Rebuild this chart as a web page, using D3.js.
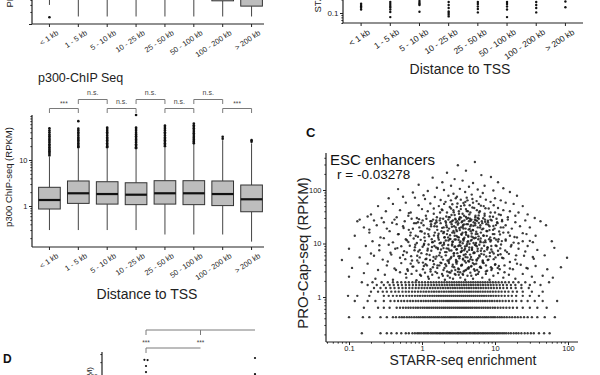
<!DOCTYPE html>
<html>
<head>
<meta charset="utf-8">
<script src="https://cdn.jsdelivr.net/npm/d3@7"></script>
<style>
  body { margin: 0; background: #fff; }
  svg { display: block; }
</style>
</head>
<body>
<div id="wrapper"></div>
<script>

// 1. Data

const distanceBins = ["< 1 kb", "1 - 5 kb", "5 - 10 kb", "10 - 25 kb", "25 - 50 kb", "50 - 100 kb", "100 - 200 kb", "> 200 kb"]

// panel A (only the bottom of it is in the crop)
const proLow = [0.30, 0.154, 0.154, 0.154, 0.154, 0.154, 0.154, 0.154]
const proQ1 = [0.9, 1.0, 1.0, 1.0, 1.0, 1.0, 0.38, 0.28]
const proMed = [1.6, 2.0, 2.0, 1.9, 2.0, 2.0, 0.9, 0.6]
const proQ3 = [3.5, 4.0, 4.0, 3.8, 4.0, 4.0, 2.0, 1.4]
const proHigh = [30, 35, 35, 35, 35, 35, 20, 15]
const proOutliers = [[0.147], [], [], [], [], [], [], []]

// panel B (only the bottom of it is in the crop)
const starrPoints = [
  [0.16, 0.15, 0.14, 0.13, 0.12],
  [0.176, 0.158, 0.143, 0.132, 0.12, 0.105, 0.081],
  [0.185, 0.17, 0.158, 0.15, 0.107],
  [0.176, 0.151, 0.129, 0.108, 0.1, 0.092, 0.084],
  [0.176, 0.158, 0.139, 0.123, 0.103],
  [0.176, 0.158, 0.139, 0.12, 0.081],
  [0.176, 0.151, 0.129, 0.103],
  [0.18, 0.134]
]

// p300 ChIP-seq boxes
const p300Low = [0.30, 0.30, 0.30, 0.30, 0.24, 0.24, 0.24, 0.168]
const p300Q1 = [0.86, 1.14, 1.10, 1.07, 1.10, 1.07, 1.02, 0.75]
const p300Med = [1.35, 1.89, 1.82, 1.76, 1.89, 1.89, 1.82, 1.40]
const p300Q3 = [2.55, 3.5, 3.37, 3.2, 3.55, 3.55, 3.5, 2.86]
const p300High = [11.6, 18, 18, 17, 18.8, 22, 27, 23]
const p300Outliers = [
  [12.5, 13.5, 14.5, 15.5, 16.5, 17.5, 19, 20.5, 22, 24, 26, 28, 30, 33, 36, 40, 44, 49],
  [19, 20, 21.5, 23, 25, 27, 29, 31, 34, 37, 40, 44, 48, 70],
  [19, 20, 21.5, 23, 25, 27, 29, 31, 34, 37, 40, 43, 47, 51],
  [18, 19, 20.5, 22, 24, 26, 28, 30, 33, 36, 39, 43, 47, 51, 95],
  [20, 21.5, 23, 25, 27, 29, 31, 34, 37, 40, 44, 48, 52, 56],
  [23, 24.5, 26, 28, 30, 32, 35, 38, 41, 45, 49, 53, 57, 62],
  [29, 32],
  [25, 27]
]
const p300Tests = [
  { from: 0, to: 1, label: "***", level: 0 },
  { from: 1, to: 2, label: "n.s.", level: 1 },
  { from: 2, to: 3, label: "n.s.", level: 0 },
  { from: 3, to: 4, label: "n.s.", level: 1 },
  { from: 4, to: 5, label: "n.s.", level: 0 },
  { from: 5, to: 6, label: "n.s.", level: 1 },
  { from: 6, to: 7, label: "***", level: 0 },
]

// panel C: STARR-seq enrichment vs PRO-Cap-seq (RPKM)
const cloudPoints = [
  [5.3,334],[3.1,290],[2.2,210],[4.0,230],[6.5,190],[1.4,170],[8.8,175],[2.8,160],[3.6,150],[1.9,140],[5.0,135],[11,140],[0.9,125],[2.5,120],[4.4,115],[7.2,120],[1.6,110],[3.3,105],[13,108],[0.47,104],[2.0,100],[5.8,102],[9.5,98],[1.2,96],[3.9,92],[0.75,90],[16,92],[6.8,88],[2.7,85],[4.8,82],[1.05,80],[20,78],
  [0.35,70],[0.55,75],[0.8,72],[1.1,68],[1.5,74],[1.8,65],[2.3,78],[2.9,70],[3.4,66],[4.1,72],[4.9,68],[5.6,62],[6.3,75],[7.5,66],[8.7,60],[10,70],[12,64],[14,58],[18,55],[24,50],[0.25,50],[0.4,55],[0.6,58],[0.9,52],[1.3,56],[1.7,50],[2.1,60],[2.6,54],[3.0,48],[3.7,57],[4.5,52],[5.2,46],[6.0,55],[7.0,50],[8.2,45],[9.6,52],[11,46],[13,42],[16,40],[21,38],[28,35],[0.2,35],[0.32,40],[0.5,42],[0.7,38],[1.0,44],[1.2,40],[1.45,36],[1.9,42],[2.2,38],[2.5,45],[2.8,34],[3.2,40],[3.6,36],[4.0,44],[4.6,38],[5.4,33],[6.2,40],[7.2,36],[8.5,32],[10,38],[12,34],[15,31],[19,33],[35,30],[0.18,32],[0.28,30],[0.45,31],[0.65,33],[0.85,30],[1.6,31],[2.4,31],[3.3,31],[4.3,30],[5.8,30],[0.14,28],
  [0.13,26],[0.22,27],[0.3,25],[0.42,28],[0.58,26],[0.72,29],[0.88,25],[1.02,27],[1.15,29],[1.3,26],[1.42,28],[1.58,25],[1.75,27],[1.95,29],[2.1,26],[2.3,28],[2.45,25],[2.65,27],[2.85,29],[3.05,26],[3.25,28],[3.5,25],[3.8,27],[4.1,29],[4.4,26],[4.75,28],[5.1,25],[5.5,27],[6.0,29],[6.6,26],[7.3,28],[8.0,25],[9.0,27],[10.5,29],[12.5,26],[15,28],[19,25],[26,27],[42,26],
  [0.16,20],[0.24,22],[0.33,19],[0.45,23],[0.55,21],[0.66,18],[0.78,24],[0.92,20],[1.05,22],[1.18,19],[1.33,23],[1.48,21],[1.62,18],[1.8,24],[1.98,20],[2.15,22],[2.35,19],[2.55,23],[2.75,21],[2.95,18],[3.15,24],[3.4,20],[3.65,22],[3.95,19],[4.25,23],[4.6,21],[4.95,18],[5.35,24],[5.8,20],[6.3,22],[6.9,19],[7.6,23],[8.4,21],[9.4,18],[10.8,24],[12,20],[14,22],[17,19],[22,21],[30,20],[50,22],
  [0.12,14],[0.19,16],[0.27,13],[0.36,17],[0.48,15],[0.6,12],[0.7,16],[0.82,14],[0.95,17],[1.08,13],[1.22,15],[1.36,12],[1.5,16],[1.66,14],[1.85,17],[2.02,13],[2.2,15],[2.4,12],[2.6,16],[2.8,14],[3.0,17],[3.2,13],[3.45,15],[3.7,12],[4.0,16],[4.3,14],[4.65,17],[5.0,13],[5.45,15],[5.9,12],[6.4,16],[7.0,14],[7.8,17],[8.6,13],[9.8,15],[11.2,12],[13,16],[16,14],[20,13],[27,15],[36,14],
  [0.21,11],[0.4,10.5],[0.62,11.5],[0.85,10.2],[1.1,11.2],[1.4,10.6],[1.7,11.8],[2.0,10.3],[2.3,11.4],[2.6,10.8],[2.9,11.9],[3.3,10.4],[3.7,11.3],[4.2,10.7],[4.8,11.7],[5.5,10.2],[6.3,11.1],[7.4,10.6],[8.8,11.5],[11,10.9],[14,11.3],[18,10.4],[24,11],[33,10.6],[60,11],
  [0.1,8],[0.17,9],[0.26,7.5],[0.35,9.5],[0.46,8.2],[0.57,7.2],[0.68,9.1],[0.8,8.5],[0.93,7.6],[1.06,9.4],[1.2,8.0],[1.34,7.3],[1.48,9.0],[1.64,8.3],[1.82,7.7],[2.0,9.6],[2.18,8.1],[2.38,7.4],[2.58,9.2],[2.78,8.6],[3.0,7.8],[3.25,9.3],[3.5,8.2],[3.78,7.5],[4.1,9.0],[4.45,8.4],[4.85,7.6],[5.3,9.5],[5.8,8.0],[6.4,7.3],[7.1,9.1],[7.9,8.5],[8.9,7.7],[10.2,9.2],[11.8,8.1],[13.8,7.4],[16.5,8.8],[21,8.0],[28,9.0],[38,7.6],[65,8.3],
  [0.14,5.5],[0.2,6.5],[0.29,5.0],[0.38,6.2],[0.5,5.4],[0.62,6.8],[0.73,4.8],[0.86,5.9],[0.98,6.6],[1.12,5.1],[1.27,6.1],[1.42,4.7],[1.58,5.7],[1.76,6.7],[1.94,5.0],[2.12,6.0],[2.32,4.6],[2.52,5.6],[2.72,6.5],[2.92,4.9],[3.15,5.8],[3.4,6.9],[3.65,5.2],[3.95,6.3],[4.3,4.7],[4.7,5.6],[5.1,6.6],[5.6,5.0],[6.1,6.0],[6.8,4.8],[7.6,5.7],[8.5,6.7],[9.6,5.1],[11,6.1],[13,5.3],[15.5,6.4],[19,5.0],[25,5.9],[34,5.2],[48,6.0],[97,5.4],[0.08,4.9],
  [0.11,3.5],[0.18,4.2],[0.25,3.2],[0.33,3.9],[0.42,3.4],[0.52,4.3],[0.64,3.1],[0.76,3.7],[0.9,4.4],[1.03,3.3],[1.17,3.9],[1.31,3.0],[1.46,4.1],[1.62,3.5],[1.79,4.4],[1.97,3.2],[2.15,3.8],[2.34,4.3],[2.55,3.1],[2.76,3.6],[2.98,4.2],[3.2,3.3],[3.45,3.9],[3.72,3.0],[4.0,4.4],[4.35,3.4],[4.75,3.8],[5.2,4.1],[5.7,3.2],[6.3,3.7],[7.0,4.3],[7.8,3.1],[8.8,3.6],[10,4.0],[11.6,3.3],[13.5,3.9],[16,3.4],[20,4.2],[27,3.5],[36,3.8],[52,3.3],[80,3.6],
  [0.1,2.4],[0.16,2.8],[0.23,2.2],[0.31,2.6],[0.4,2.1],[0.5,2.9],[0.61,2.3],[0.72,2.7],[0.84,2.05],[0.97,2.5],[1.1,2.85],[1.24,2.2],[1.38,2.6],[1.53,2.95],[1.7,2.3],[1.88,2.7],[2.06,2.1],[2.25,2.5],[2.45,2.85],[2.66,2.2],[2.88,2.6],[3.1,2.95],[3.35,2.3],[3.6,2.7],[3.9,2.1],[4.2,2.5],[4.6,2.85],[5.0,2.2],[5.5,2.6],[6.0,2.95],[6.7,2.3],[7.5,2.7],[8.4,2.1],[9.5,2.5],[11,2.8],[13,2.3],[15.5,2.6],[19,2.2],[24,2.7],[32,2.4],[45,2.5],[62,2.3]
]

// the dark centre of the cloud
const cloudCore = [
  [0.63,3.3],[0.71,5.8],[0.77,12.4],[0.83,24],[0.89,7.1],[0.94,2.6],[0.99,16.8],[1.03,4.4],[1.07,9.9],[1.13,33],[1.16,6.3],[1.21,2.4],[1.25,13.7],[1.29,4.9],[1.33,21],[1.37,8.6],[1.41,3.6],[1.45,45],[1.49,11.1],[1.53,5.2],[1.57,27],[1.61,2.8],[1.65,7.9],[1.69,15.2],[1.73,3.9],[1.77,38],[1.81,10.3],[1.85,5.6],[1.89,19.6],[1.93,2.5],[1.97,8.2],[2.01,55],[2.05,13.1],[2.09,4.1],[2.13,24.5],[2.17,6.9],[2.21,3.0],[2.25,17.4],[2.29,9.4],[2.33,31],[2.37,5.0],[2.41,2.3],[2.45,12.2],[2.49,64],[2.53,7.4],[2.57,20.5],[2.61,3.7],[2.65,10.8],[2.69,42],[2.73,5.9],[2.77,15.9],[2.81,2.7],[2.85,8.8],[2.89,28],[2.93,4.5],[2.97,13.9],[3.01,75],[3.05,6.6],[3.09,22.5],[3.13,3.4],[3.17,11.6],[3.21,36],[3.25,5.3],[3.29,17.9],[3.33,2.9],[3.37,9.1],[3.41,50],[3.45,7.0],[3.49,14.6],[3.53,4.0],[3.57,26],[3.61,10.1],[3.65,2.6],[3.69,19.1],[3.73,6.1],[3.77,33],[3.81,12.8],[3.85,4.7],[3.89,8.0],[3.93,60],[3.97,16.2],[4.01,3.2],[4.07,23],[4.13,9.7],[4.19,5.5],[4.25,40],[4.31,13.4],[4.37,3.6],[4.43,7.6],[4.49,18.7],[4.55,29],[4.61,5.1],[4.67,11.3],[4.73,2.5],[4.79,15.4],[4.85,8.4],[4.91,47],[4.97,4.3],[5.05,21.5],[5.13,6.8],[5.21,12.5],[5.29,3.1],[5.37,31],[5.45,9.3],[5.53,16.6],[5.61,4.8],[5.69,26.5],[5.77,7.2],[5.85,2.7],[5.95,13.6],[6.05,38],[6.15,5.7],[6.25,19.9],[6.35,10.6],[6.45,3.5],[6.57,8.1],[6.69,24],[6.81,4.4],[6.93,14.1],[7.05,6.2],[7.2,33],[7.35,11.4],[7.5,3.0],[7.65,17.1],[7.8,7.7],[7.95,4.9],[8.1,22.4],[8.3,12.0],[8.5,5.8],[8.7,28],[8.9,9.0],[9.1,3.4],[9.35,15.0],[9.6,6.5],[9.85,19.0],[10.1,4.1],[10.4,11.8],[10.7,25],[11,7.3],[11.3,3.8],[11.7,14.8],[12.1,9.6],[12.5,5.4],[13,20],[13.5,2.9],[14,11.9],[14.6,6.9],[15.2,16.1],[16,4.5],[16.8,9.4],[17.6,3.3],[18.5,13.2],[19.5,6.0],[21,10.1],[22.5,4.0],[24,15.6],[26,7.1],[28,3.4],[30,11.2],[33,5.6],
  [0.52,8.9],[0.56,19.5],[0.59,5.1],[0.66,37],[0.69,14.2],[0.74,3.7],[0.81,9.5],[0.86,4.8],[0.91,28.5],[0.96,11.7],[0.3,12.6],[0.34,4.6],[0.39,24.5],[0.43,8.0],[0.47,14.9],[0.26,9.3],[0.22,5.9],[0.19,18.2],[0.44,3.2],[0.37,6.7],
  [1.12,4.1],[1.19,7.4],[1.26,18.3],[1.31,3.3],[1.38,10.6],[1.44,5.6],[1.51,23.6],[1.56,8.4],[1.63,3.9],[1.67,12.8],[1.72,6.0],[1.78,29.5],[1.84,4.3],[1.9,9.2],[1.96,15.6],[2.03,3.5],[2.07,6.9],[2.12,11.4],[2.19,20.2],[2.24,4.8],[2.3,8.0],[2.36,2.9],[2.42,14.3],[2.47,5.3],[2.54,34],[2.59,9.7],[2.64,4.0],[2.7,17.2],[2.75,6.6],[2.8,11.9],[2.86,3.2],[2.91,24.8],[2.96,7.7],[3.03,4.6],[3.08,13.2],[3.14,9.0],[3.19,2.6],[3.24,19.4],[3.3,5.8],[3.36,10.9],[3.42,30.5],[3.47,3.9],[3.52,7.3],[3.59,15.9],[3.64,5.0],[3.7,12.1],[3.76,22.8],[3.83,3.1],[3.88,8.8],[3.95,5.6],[4.02,14.6],[4.09,40.5],[4.16,7.0],[4.22,3.4],[4.28,11.0],[4.35,18.2],[4.41,4.6],[4.47,9.9],[4.55,6.2],[4.63,26.7],[4.7,3.7],[4.77,13.5],[4.84,7.9],[4.92,4.9],[5.0,17.7],[5.08,10.2],[5.17,3.3],[5.26,6.7],[5.35,21.9],[5.44,12.8],[5.53,4.2],[5.63,8.9],[5.74,15.1],[5.86,5.3],[5.98,33.5],[6.1,9.5],[6.22,3.6],[6.36,12.4],[6.5,6.4],[6.65,18.4],[6.8,4.6],[6.97,10.5],[7.15,7.2],[7.33,25.5],[7.52,3.9],[7.72,13.9],[7.93,8.3],[8.15,5.0],[8.4,17.8],[8.65,10.9],[8.92,3.2],[9.2,7.0],[9.5,21.2],[9.8,12.6],[10.15,5.5],[10.5,9.0],[10.9,3.5],[11.4,16.8],[11.9,6.3],[12.4,11.1],
  [0.55,6.1],[0.6,2.7],[0.65,10.7],[0.7,4.2],[0.75,18.9],[0.79,7.5],[0.84,3.1],[0.88,13.4],[0.93,5.5],[0.98,24.1],[1.02,8.7],[1.06,3.8],[1.09,15.4],[1.15,5.2],[1.23,9.6],[1.35,26.1],[1.46,14.1],[1.6,20.8],[1.75,10.1],[1.87,43.5],[2.0,16.4],[2.15,32],[2.28,13.0],[2.4,48],[2.56,25.9],[2.72,38.5],[2.9,19.9],[3.06,56],[3.22,28.8],[3.4,44],[3.6,20.6],[3.8,52],[4.0,31.4],[4.2,64],[4.45,35],[4.7,22.3],[5.0,58],[5.3,27.8],[5.65,42],[6.0,24.3],[6.4,51],[6.9,29.7],[7.4,45.5],[8.0,26.8],[8.7,38],[9.4,31.6],[10.3,22.1],[11.3,35],[12.5,27.5]
]

// low PRO-Cap values fall on discrete levels
const bandLevels = [0.21, 0.42, 0.63, 0.84, 1.05, 1.26, 1.47, 1.68, 1.89]
const bandEnrichment = [
  [0.15, 0.27, 0.33, 0.38, 0.45, 0.52, 0.6, 0.66, 0.74, 0.8, 0.86, 0.91, 0.97, 1.04, 1.1, 1.17, 1.23, 1.31, 1.38, 1.46, 1.55, 1.63, 1.72, 1.8, 1.9, 2.0, 2.12, 2.23, 2.35, 2.47, 2.6, 2.74, 2.9, 3.05, 3.2, 3.38, 3.55, 3.75, 3.95, 4.15, 4.4, 4.62, 4.88, 5.15, 5.4, 5.7, 6.0, 6.35, 6.7, 7.05, 7.45, 7.85, 8.3, 8.8, 9.3, 9.8, 10.4, 11, 11.7, 12.5, 13.3, 14.2, 15.3, 16.5, 18, 19.5, 21, 23, 25.5, 28, 31, 34, 40, 47, 56],
  [0.1, 0.155, 0.19, 0.27, 0.33, 0.4, 0.44, 0.49, 0.53, 0.57, 0.62, 0.67, 0.72, 0.78, 0.84, 0.9, 0.96, 1.03, 1.1, 1.18, 1.26, 1.34, 1.43, 1.52, 1.62, 1.72, 1.84, 1.96, 2.08, 2.22, 2.36, 2.5, 2.66, 2.83, 3.0, 3.2, 3.4, 3.62, 3.85, 4.1, 4.36, 4.63, 4.92, 5.25, 5.6, 5.95, 6.35, 6.8, 7.25, 7.7, 8.2, 8.8, 9.4, 10, 10.8, 11.6, 12.4, 13.4, 14.5, 15.8, 17.2, 18.8, 20.5, 22.5, 25, 28, 32, 38, 48, 66],
  [0.16, 0.25, 0.3, 0.36, 0.45, 0.5, 0.55, 0.6, 0.65, 0.7, 0.76, 0.82, 0.88, 0.95, 1.02, 1.09, 1.17, 1.25, 1.34, 1.43, 1.53, 1.63, 1.74, 1.86, 1.98, 2.1, 2.24, 2.38, 2.53, 2.69, 2.86, 3.04, 3.23, 3.43, 3.65, 3.88, 4.12, 4.38, 4.66, 4.95, 5.3, 5.65, 6.05, 6.5, 6.95, 7.45, 8.0, 8.6, 9.3, 10, 10.9, 11.9, 13, 14.3, 15.8, 17.6, 20, 24, 30, 38, 51],
  [0.12, 0.18, 0.23, 0.3, 0.37, 0.42, 0.47, 0.52, 0.57, 0.63, 0.69, 0.75, 0.82, 0.89, 0.97, 1.05, 1.13, 1.22, 1.31, 1.41, 1.51, 1.62, 1.74, 1.86, 1.99, 2.13, 2.27, 2.42, 2.58, 2.75, 2.93, 3.12, 3.33, 3.55, 3.78, 4.03, 4.3, 4.58, 4.88, 5.2, 5.55, 5.93, 6.35, 6.8, 7.3, 7.85, 8.45, 9.1, 9.85, 10.7, 11.6, 12.7, 14, 15.5, 17.3, 19.5, 23, 28, 35, 45, 71],
  [0.097, 0.13, 0.19, 0.3, 0.35, 0.4, 0.45, 0.5, 0.55, 0.61, 0.67, 0.73, 0.8, 0.87, 0.94, 1.02, 1.1, 1.19, 1.28, 1.38, 1.48, 1.59, 1.7, 1.82, 1.95, 2.08, 2.22, 2.37, 2.53, 2.7, 2.88, 3.07, 3.27, 3.48, 3.7, 3.94, 4.2, 4.47, 4.76, 5.07, 5.4, 5.77, 6.17, 6.6, 7.07, 7.6, 8.18, 8.8, 9.5, 10.3, 11.2, 12.3, 13.6, 15.2, 17, 19.5, 24, 30, 40],
  [0.2, 0.25, 0.29, 0.33, 0.38, 0.43, 0.48, 0.54, 0.6, 0.66, 0.73, 0.8, 0.88, 0.96, 1.05, 1.14, 1.24, 1.35, 1.46, 1.58, 1.71, 1.85, 2.0, 2.16, 2.33, 2.5, 2.68, 2.88, 3.1, 3.33, 3.57, 3.83, 4.1, 4.4, 4.72, 5.07, 5.45, 5.86, 6.3, 6.8, 7.35, 7.95, 8.6, 9.35, 10.2, 11.2, 12.3, 13.7, 15.3, 17.5, 20, 24, 32, 45],
  [0.22, 0.27, 0.32, 0.37, 0.42, 0.48, 0.54, 0.6, 0.67, 0.74, 0.82, 0.9, 0.99, 1.08, 1.18, 1.29, 1.4, 1.52, 1.65, 1.79, 1.94, 2.1, 2.27, 2.45, 2.64, 2.84, 3.06, 3.3, 3.55, 3.82, 4.1, 4.4, 4.73, 5.1, 5.5, 5.93, 6.4, 6.92, 7.5, 8.13, 8.85, 9.65, 10.6, 11.7, 13, 14.6, 16.6, 19.2, 23, 29],
  [0.18, 0.24, 0.3, 0.36, 0.41, 0.47, 0.53, 0.6, 0.67, 0.75, 0.83, 0.92, 1.01, 1.11, 1.22, 1.34, 1.46, 1.59, 1.73, 1.88, 2.04, 2.21, 2.39, 2.58, 2.78, 3.0, 3.23, 3.48, 3.75, 4.04, 4.35, 4.68, 5.04, 5.43, 5.86, 6.33, 6.85, 7.42, 8.05, 8.75, 9.55, 10.5, 11.6, 12.9, 14.5, 16.5, 19, 23, 30, 42],
  [0.15, 0.21, 0.28, 0.34, 0.4, 0.46, 0.52, 0.59, 0.66, 0.74, 0.82, 0.91, 1.0, 1.1, 1.21, 1.32, 1.44, 1.57, 1.71, 1.86, 2.02, 2.19, 2.37, 2.56, 2.76, 2.98, 3.21, 3.46, 3.73, 4.02, 4.33, 4.66, 5.02, 5.41, 5.83, 6.29, 6.79, 7.34, 7.94, 8.6, 9.35, 10.2, 11.2, 12.4, 13.8, 15.5, 17.8, 21, 26, 35, 55]
]
const cTitle = "ESC enhancers"
const cCorrelation = "r = -0.03278"

// panel D (only the top of it is in the crop)
const dGroups = ["g1", "g2", "g3"]
const dPoints = [[225, 222, 165, 122], [], [246, 110]]
const dTests = [
  { from: 0, to: 2, mid: 1, label: ["***", "***"], level: 1 },
  { from: 0, to: 1, label: [], level: 0 },
]

// 2. Chart dimensions

const font = "'Liberation Sans', Arial, Helvetica, sans-serif"
const ink = "#222"

const wrapper = d3.select("#wrapper")
  .append("svg")
  .attr("width", 600)
  .attr("height", 375)
  .style("font-family", font)

// log ticks (1..9 x 10^n) falling inside a pixel span
function logTickValues(scale, p0, p1) {
  const lo = Math.min(p0, p1), hi = Math.max(p0, p1)
  const vals = []
  for (let e = -3; e <= 4; e++) {
    for (let k = 1; k <= 9; k++) {
      const v = +(k * Math.pow(10, e)).toPrecision(6)
      const p = scale(v)
      if (p >= lo - 0.01 && p <= hi + 0.01) vals.push(v)
    }
  }
  return vals
}
const isDecade = v => Math.abs(Math.log10(v) - Math.round(Math.log10(v))) < 1e-6

function logAxisLeft(g, scale, x, y0, y1, labelled, fontSize) {
  const vals = logTickValues(scale, y0, y1)
  const axis = d3.axisLeft(scale)
    .tickValues(vals)
    .tickSize(3)
    .tickPadding(1.5)
    .tickSizeOuter(0)
    .tickFormat(d => labelled.includes(d) ? String(d) : "")
  g.attr("transform", `translate(${x},0)`).call(axis)
  g.select(".domain").remove()
  g.selectAll(".tick line")
    .attr("stroke", ink)
    .attr("x2", d => isDecade(d) ? -3 : -1.6)
  g.selectAll(".tick text").attr("fill", ink)
  g.attr("font-size", fontSize).attr("font-family", font)
  g.append("line")
    .attr("y1", y0).attr("y2", y1)
    .attr("stroke", ink).attr("stroke-width", 1.2)
}

function logAxisBottom(g, scale, y, x0, x1, labelled, fontSize) {
  const vals = logTickValues(scale, x0, x1)
  const axis = d3.axisBottom(scale)
    .tickValues(vals)
    .tickSize(3)
    .tickPadding(0.5)
    .tickSizeOuter(0)
    .tickFormat(d => labelled.includes(d) ? String(d) : "")
  g.attr("transform", `translate(0,${y})`).call(axis)
  g.select(".domain").remove()
  g.selectAll(".tick line")
    .attr("stroke", ink)
    .attr("y2", d => isDecade(d) ? 3 : 1.6)
  g.selectAll(".tick text").attr("fill", ink)
  g.attr("font-size", fontSize).attr("font-family", font)
  g.append("line")
    .attr("x1", x0).attr("x2", x1)
    .attr("stroke", ink).attr("stroke-width", 1.2)
}

function categoryAxis(g, xScale, y, x0, x1, fontSize) {
  const axis = d3.axisBottom(xScale).tickSize(3).tickSizeOuter(0)
  g.attr("transform", `translate(0,${y})`).call(axis)
  g.select(".domain").remove()
  g.selectAll(".tick line").attr("stroke", ink)
  g.selectAll(".tick text")
    .attr("x", 0).attr("y", 0).attr("dy", "0.35em")
    .attr("text-anchor", "end")
    .attr("fill", ink)
    .attr("transform", "translate(8,8) rotate(-34)")
  g.attr("font-size", fontSize).attr("font-family", font)
  g.append("line")
    .attr("x1", x0).attr("x2", x1)
    .attr("stroke", ink).attr("stroke-width", 1.2)
}

function drawBoxes(g, xScale, yScale, low, q1, med, q3, high, outliers) {
  const bw = xScale.bandwidth()
  const boxes = g.selectAll("g.box")
    .data(distanceBins)
    .join("g")
    .attr("class", "box")
    .attr("transform", d => `translate(${xScale(d)},0)`)

  boxes.append("line")
    .attr("x1", bw / 2).attr("x2", bw / 2)
    .attr("y1", (d, i) => yScale(low[i]))
    .attr("y2", (d, i) => yScale(q1[i]))
    .attr("stroke", "#444")
  boxes.append("line")
    .attr("x1", bw / 2).attr("x2", bw / 2)
    .attr("y1", (d, i) => yScale(q3[i]))
    .attr("y2", (d, i) => yScale(high[i]))
    .attr("stroke", "#444")
  boxes.append("rect")
    .attr("x", 0).attr("width", bw)
    .attr("y", (d, i) => yScale(q3[i]))
    .attr("height", (d, i) => yScale(q1[i]) - yScale(q3[i]))
    .attr("fill", "#bdbdbd")
    .attr("stroke", "#333")
    .attr("stroke-width", 1)
  boxes.append("line")
    .attr("x1", 0).attr("x2", bw)
    .attr("y1", (d, i) => yScale(med[i]))
    .attr("y2", (d, i) => yScale(med[i]))
    .attr("stroke", "#111")
    .attr("stroke-width", 2.2)
  boxes.each(function (d, i) {
    d3.select(this).selectAll("circle")
      .data(outliers[i])
      .join("circle")
      .attr("cx", bw / 2)
      .attr("cy", v => yScale(v))
      .attr("r", 1.3)
      .attr("fill", "#111")
  })
}

// 3. Panel A (cropped, top left)

const xLeft = d3.scaleBand()
  .domain(distanceBins)
  .range([35, 266])
  .paddingInner(0.25)
  .paddingOuter(0.125)

const yA = d3.scaleLog().domain([0.1, 1]).range([24, -16])
const panelA = wrapper.append("g")
drawBoxes(panelA, xLeft, yA, proLow, proQ1, proMed, proQ3, proHigh, proOutliers)
logAxisLeft(panelA.append("g"), yA, 32, -2, 24, [], 7.5)
categoryAxis(panelA.append("g"), xLeft, 24, 32, 264, 7.5)
panelA.append("text")
  .attr("transform", "translate(13,7.5) rotate(-90)")
  .attr("font-size", 9.5)
  .attr("fill", ink)
  .text("PRO-Cap-seq (RPKM)")

// 4. Panel B (cropped, top right)

const xRight = d3.scaleBand()
  .domain(distanceBins)
  .range([346.5, 580])
  .paddingInner(0.25)
  .paddingOuter(0.125)
const yB = d3.scaleLog().domain([0.1, 1]).range([13, -32])
const panelB = wrapper.append("g")
panelB.selectAll("g.col")
  .data(distanceBins)
  .join("g")
  .attr("class", "col")
  .each(function (d, i) {
    d3.select(this).selectAll("circle")
      .data(starrPoints[i])
      .join("circle")
      .attr("cx", xRight(d) + xRight.bandwidth() / 2)
      .attr("cy", v => yB(v))
      .attr("r", 1.2)
      .attr("fill", "#111")
  })
logAxisLeft(panelB.append("g"), yB, 343, -2, 23, [0.1], 8)
categoryAxis(panelB.append("g"), xRight, 23, 343, 583, 8.5)
panelB.append("text")
  .attr("x", 460).attr("y", 74)
  .attr("text-anchor", "middle")
  .attr("font-size", 14)
  .attr("fill", ink)
  .text("Distance to TSS")
panelB.append("text")
  .attr("transform", "translate(320.5,12.5) rotate(-90)")
  .attr("font-size", 9.5)
  .attr("fill", ink)
  .text("STARR-seq enrichment")

// 5. p300 ChIP-seq panel

const yP = d3.scaleLog().domain([0.1, 100]).range([252, 114])
const panelP = wrapper.append("g")
panelP.append("text")
  .attr("x", 38).attr("y", 82)
  .attr("font-size", 12.5)
  .attr("fill", ink)
  .text("p300-ChIP Seq")

const mid = i => xLeft(distanceBins[i]) + xLeft.bandwidth() / 2
const bracketY = [108.5, 99.5]
const brackets = panelP.selectAll("g.test")
  .data(p300Tests)
  .join("g")
  .attr("class", "test")
brackets.append("path")
  .attr("d", t => `M${mid(t.from)},${bracketY[t.level] + 4.5}V${bracketY[t.level]}H${mid(t.to)}V${bracketY[t.level] + 4.5}`)
  .attr("fill", "none")
  .attr("stroke", "#7a7a7a")
  .attr("stroke-width", 1)
brackets.append("text")
  .attr("x", t => (mid(t.from) + mid(t.to)) / 2)
  .attr("y", t => bracketY[t.level] - (t.label === "***" ? 2.5 : 4.5))
  .attr("text-anchor", "middle")
  .attr("font-size", t => t.label === "***" ? 6.5 : 7)
  .attr("fill", "#444")
  .text(t => t.label)

drawBoxes(panelP, xLeft, yP, p300Low, p300Q1, p300Med, p300Q3, p300High, p300Outliers)
logAxisLeft(panelP.append("g"), yP, 32, 115, 247, [1, 10], 7.5)
categoryAxis(panelP.append("g"), xLeft, 247, 32, 264, 7.5)
panelP.append("text")
  .attr("transform", "translate(12,177) rotate(-90)")
  .attr("text-anchor", "middle")
  .attr("font-size", 9.5)
  .attr("fill", ink)
  .text("p300 ChIP-seq (RPKM)")
panelP.append("text")
  .attr("x", 147).attr("y", 299)
  .attr("text-anchor", "middle")
  .attr("font-size", 14)
  .attr("fill", ink)
  .text("Distance to TSS")

// 6. Panel C scatter

const xC = d3.scaleLog().domain([0.1, 100]).range([349, 568])
const yC = d3.scaleLog().domain([1, 100]).range([297, 190])
const panelC = wrapper.append("g")

panelC.append("text")
  .attr("x", 306).attr("y", 137)
  .attr("font-size", 13)
  .attr("font-weight", "bold")
  .attr("fill", "#111")
  .text("C")

const bandPoints = bandLevels.flatMap((level, i) => bandEnrichment[i].map(x => [x, level]))
panelC.append("g")
  .selectAll("circle")
  .data(cloudPoints.concat(cloudCore, bandPoints))
  .join("circle")
  .attr("cx", d => xC(d[0]))
  .attr("cy", d => yC(d[1]))
  .attr("r", 1.2)
  .attr("fill", "#1a1a1a")
  .attr("fill-opacity", 0.85)

logAxisLeft(panelC.append("g"), yC, 326, 153, 342, [1, 10, 100], 7.5)
logAxisBottom(panelC.append("g"), xC, 342, 326, 578, [0.1, 1, 10, 100], 7.5)

panelC.append("text")
  .attr("x", 330).attr("y", 165)
  .attr("font-size", 15)
  .attr("fill", "#111")
  .text(cTitle)
panelC.append("text")
  .attr("x", 337).attr("y", 178.5)
  .attr("font-size", 13.5)
  .attr("fill", "#111")
  .text(cCorrelation)
panelC.append("text")
  .attr("transform", "translate(308,253) rotate(-90)")
  .attr("text-anchor", "middle")
  .attr("font-size", 15)
  .attr("fill", ink)
  .text("PRO-Cap-seq (RPKM)")
panelC.append("text")
  .attr("x", 463).attr("y", 365)
  .attr("text-anchor", "middle")
  .attr("font-size", 14)
  .attr("fill", ink)
  .text("STARR-seq enrichment")

// 7. Panel D (cropped, bottom left)

const xD = d3.scalePoint().domain(dGroups).range([146, 255])
const yD = d3.scaleLog().domain([100, 1000]).range([376, 330])
const panelD = wrapper.append("g")

panelD.append("text")
  .attr("x", 3).attr("y", 363)
  .attr("font-size", 12)
  .attr("font-weight", "bold")
  .attr("fill", "#111")
  .text("D")

const dLevelY = [348, 330]
dTests.forEach(t => {
  const yb = dLevelY[t.level]
  const x1 = xD(dGroups[t.from]), x2 = xD(dGroups[t.to])
  const path = d3.path()
  path.moveTo(x1, yb + 5)
  path.lineTo(x1, yb)
  path.lineTo(x2, yb)
  if (t.mid !== undefined) {
    path.moveTo(xD(dGroups[t.mid]), yb)
    path.lineTo(xD(dGroups[t.mid]), yb + 5)
  }
  panelD.append("path")
    .attr("d", path.toString())
    .attr("fill", "none")
    .attr("stroke", "#7a7a7a")
  const labelAt = [x1, t.mid !== undefined ? xD(dGroups[t.mid]) : x2]
  t.label.forEach((lab, j) => {
    panelD.append("text")
      .attr("x", labelAt[j]).attr("y", yb + 15)
      .attr("text-anchor", "middle")
      .attr("font-size", 6.5)
      .attr("fill", "#444")
      .text(lab)
  })
})

// points that nearly coincide are set side by side
dGroups.forEach((grp, i) => {
  const placed = dPoints[i].map(v => ({ y: yD(v), dx: 0 }))
  placed.forEach((p, j) => {
    if (j > 0 && Math.abs(p.y - placed[j - 1].y) < 2.5) {
      placed[j - 1].dx = -1.6
      p.dx = 1.6
    }
  })
  panelD.selectAll(null)
    .data(placed)
    .join("circle")
    .attr("cx", p => xD(grp) + p.dx)
    .attr("cy", p => p.y)
    .attr("r", 1.1)
    .attr("fill", "#111")
})

logAxisLeft(panelD.append("g"), yD, 102, 352, 380, [100], 6)
panelD.append("text")
  .attr("transform", "translate(91.5,367) rotate(-90)")
  .attr("text-anchor", "end")
  .attr("font-size", 8)
  .attr("fill", ink)
  .text("Expression (RPKM)")

</script>
</body>
</html>
